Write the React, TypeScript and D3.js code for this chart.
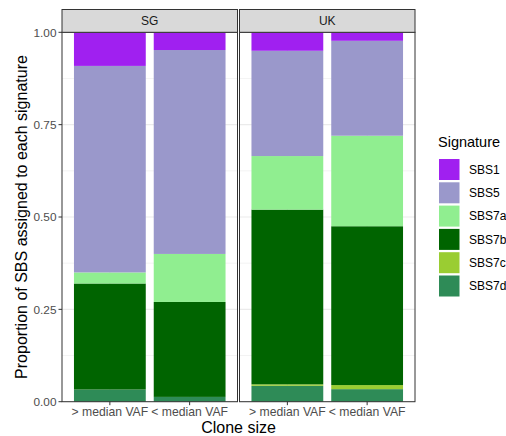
import React from "react";
import * as d3 from "d3";

// Facets and clone-size groups
const facets = ["SG", "UK"];
const cloneSizes = ["> median VAF", "< median VAF"];

// Signatures in legend order (top of stack first)
const signatures = ["SBS1", "SBS5", "SBS7a", "SBS7b", "SBS7c", "SBS7d"];
const signatureColors = ["#A020F0", "#9A98CB", "#90EE90", "#006400", "#9ACD32", "#2E8B57"];

// Proportions per bar, ordered: SG >, SG <, UK >, UK <
const sbs1 = [0.091, 0.048, 0.05, 0.023];
const sbs5 = [0.559, 0.552, 0.285, 0.257];
const sbs7a = [0.03, 0.13, 0.145, 0.245];
const sbs7b = [0.287, 0.257, 0.473, 0.43];
const sbs7c = [0.0, 0.0, 0.004, 0.011];
const sbs7d = [0.033, 0.013, 0.043, 0.034];

const yTicks = [0, 0.25, 0.5, 0.75, 1];
const yMinor = [0.125, 0.375, 0.625, 0.875];

const FONT = "'Liberation Sans', Arial, Helvetica, sans-serif";

export default function App() {
  const width = 506;
  const height = 436;

  const seriesValues: Record<string, number[]> = {
    SBS1: sbs1,
    SBS5: sbs5,
    SBS7a: sbs7a,
    SBS7b: sbs7b,
    SBS7c: sbs7c,
    SBS7d: sbs7d,
  };

  const rows = facets.flatMap((f, fi) =>
    cloneSizes.map((c, ci) => {
      const idx = fi * cloneSizes.length + ci;
      const row: any = { facet: f, size: c };
      signatures.forEach((s) => (row[s] = seriesValues[s][idx]));
      return row;
    })
  );

  const stackKeys = [...signatures].reverse();
  const stacked = d3.stack<any>().keys(stackKeys)(rows);
  const color = d3.scaleOrdinal<string, string>().domain(signatures).range(signatureColors);

  const y = d3.scaleLinear().domain([0, 1]).range([401.7, 32.3]);

  const panels = [
    { facet: "SG", x0: 62, x1: 237.5 },
    { facet: "UK", x0: 239.5, x1: 415 },
  ];
  const stripTop = 9.5;

  const legendX = 439;
  const legendTop = 159;
  const keyStep = 23.3;

  return (
    <svg width={width} height={height} style={{ position: "absolute", left: 0, top: 0, background: "#fff" }}>
      <rect x={0} y={0} width={width} height={height} fill="#fff" />
      {panels.map((p) => {
        const x = d3
          .scaleBand<string>()
          .domain(cloneSizes)
          .range([p.x0, p.x1])
          .paddingInner(0.1)
          .paddingOuter(0.15);
        return (
          <g key={p.facet}>
            {/* grid */}
            {yMinor.map((t) => (
              <line key={"m" + t} x1={p.x0} x2={p.x1} y1={y(t)} y2={y(t)} stroke="#EBEBEB" strokeWidth={0.6} />
            ))}
            {yTicks.map((t) => (
              <line key={"M" + t} x1={p.x0} x2={p.x1} y1={y(t)} y2={y(t)} stroke="#EBEBEB" strokeWidth={1.1} />
            ))}
            {cloneSizes.map((c) => (
              <line
                key={"v" + c}
                x1={x(c)! + x.bandwidth() / 2}
                x2={x(c)! + x.bandwidth() / 2}
                y1={y(0)}
                y2={y(1)}
                stroke="#EBEBEB"
                strokeWidth={1.1}
              />
            ))}
            {/* bars */}
            {stacked.map((layer) =>
              layer
                .filter((d) => d.data.facet === p.facet)
                .map((d) => (
                  <rect
                    key={layer.key + d.data.size}
                    x={x(d.data.size)}
                    width={x.bandwidth()}
                    y={y(d[1])}
                    height={Math.max(0, y(d[0]) - y(d[1]))}
                    fill={color(layer.key)}
                  />
                ))
            )}
            {/* panel border */}
            <rect x={p.x0} y={y(1)} width={p.x1 - p.x0} height={y(0) - y(1)} fill="none" stroke="#333" strokeWidth={1} />
            {/* strip */}
            <rect x={p.x0} y={stripTop} width={p.x1 - p.x0} height={y(1) - stripTop} fill="#D9D9D9" stroke="#333" strokeWidth={1} />
            <text
              x={(p.x0 + p.x1) / 2}
              y={(stripTop + y(1)) / 2}
              dy="0.36em"
              textAnchor="middle"
              fontFamily={FONT}
              fontSize={12}
              fill="#1A1A1A"
            >
              {p.facet}
            </text>
            {/* x ticks + labels */}
            {cloneSizes.map((c) => {
              const cx = x(c)! + x.bandwidth() / 2;
              return (
                <g key={"xt" + c}>
                  <line x1={cx} x2={cx} y1={y(0)} y2={y(0) + 3.5} stroke="#333" strokeWidth={1} />
                  <text x={cx} y={415.5} textAnchor="middle" fontFamily={FONT} fontSize={12.2} fill="#4D4D4D">
                    {c}
                  </text>
                </g>
              );
            })}
          </g>
        );
      })}
      {/* y axis */}
      {yTicks.map((t) => (
        <g key={"yt" + t}>
          <line x1={58.5} x2={62} y1={y(t)} y2={y(t)} stroke="#333" strokeWidth={1} />
          <text x={56.5} y={y(t)} dy="0.36em" textAnchor="end" fontFamily={FONT} fontSize={11.8} fill="#4D4D4D">
            {t.toFixed(2)}
          </text>
        </g>
      ))}
      <text
        transform={`translate(27, ${(y(0) + y(1)) / 2}) rotate(-90)`}
        textAnchor="middle"
        fontFamily={FONT}
        fontSize={16}
        fill="#000"
      >
        Proportion of SBS assigned to each signature
      </text>
      <text x={(62 + 415) / 2} y={433} textAnchor="middle" fontFamily={FONT} fontSize={16} fill="#000">
        Clone size
      </text>
      {/* legend */}
      <text x={legendX - 1} y={147} fontFamily={FONT} fontSize={14.5} fill="#000">
        Signature
      </text>
      {signatures.map((s, i) => (
        <g key={"lg" + s}>
          <rect x={legendX} y={legendTop + i * keyStep} width={20.5} height={21} fill={color(s)} />
          <text
            x={legendX + 30}
            y={legendTop + i * keyStep + 10.5}
            dy="0.36em"
            fontFamily={FONT}
            fontSize={12}
            fill="#000"
          >
            {s}
          </text>
        </g>
      ))}
    </svg>
  );
}
